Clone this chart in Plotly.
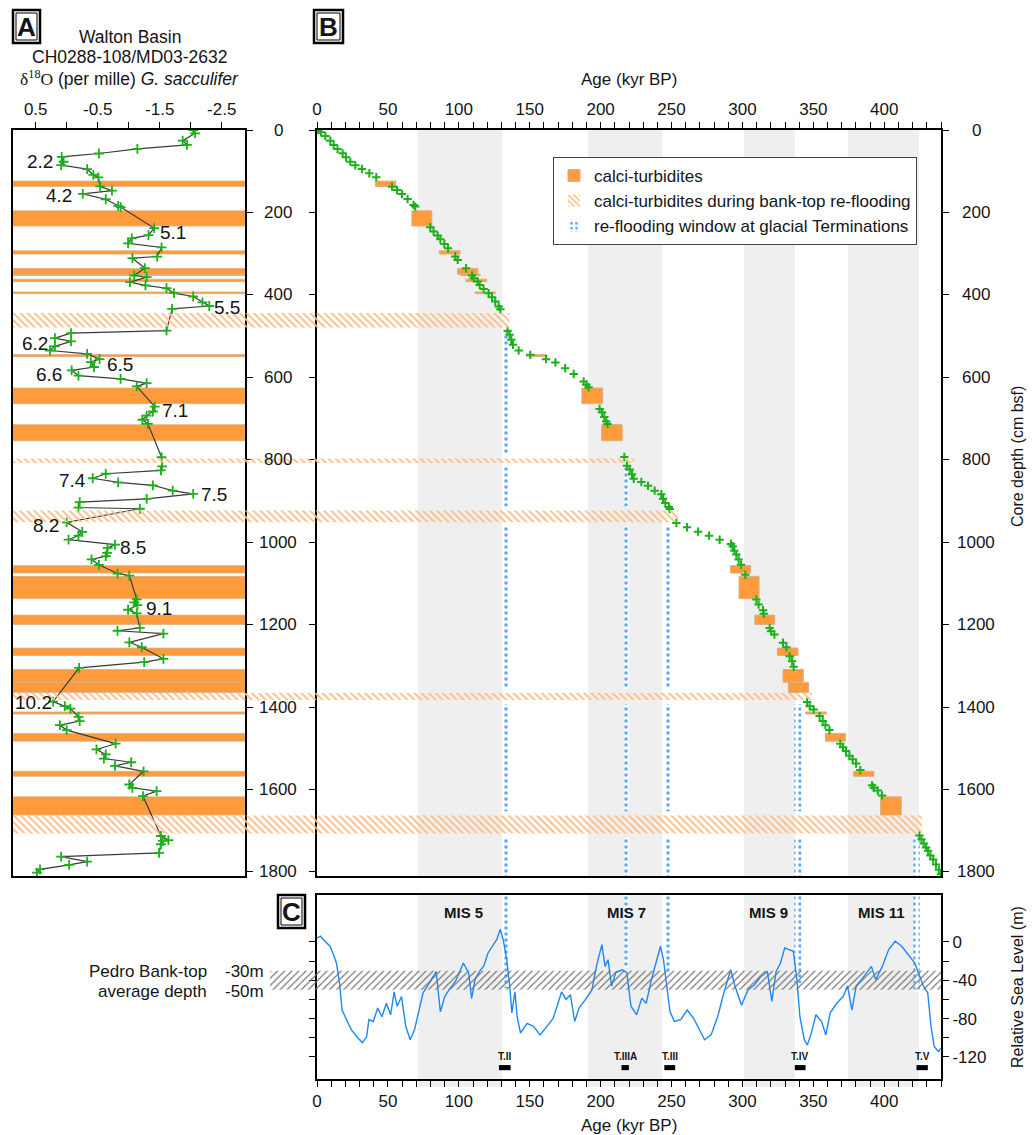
import plotly.graph_objects as go

W, H = 1032, 1135
FONT = "Liberation Sans"
TXT = "#151515"

# ---------------- DATA ----------------
# Panel A : d18O (G. sacculifer) versus core depth  (depth cm, d18O per mille)
a_record = [(0, -2.04), (8, -2.07), (26, -1.87), (36, -1.94), (46, -1.14), (57, -0.52), (65, 0.08),
            (77, 0.05), (85, 0.09), (95, -0.33), (109, -0.43), (115, -0.51), (137, -0.54), (147, -0.73),
            (155, -0.26), (168, -0.63), (184, -0.83), (187, -0.87), (238, -1.41), (255, -1.32), (263, -1.05),
            (275, -0.99), (285, -1.53), (307, -1.46), (311, -1.06), (335, -1.26), (353, -1.09), (357, -1.29),
            (369, -1.02), (377, -1.27), (384, -1.61), (396, -1.73), (404, -2.04), (418, -2.19), (427, -2.30),
            (434, -1.70), (487, -1.61), (493, -0.07), (505, 0.19), (513, -0.07), (525, 0.19), (535, 0.27),
            (543, -0.33), (556, -0.53), (563, -0.39), (575, -0.44), (583, -0.08), (596, -0.19), (604, -0.87),
            (614, -1.29), (622, -1.13), (671, -1.42), (683, -1.39), (693, -1.29), (703, -1.22), (713, -1.31),
            (794, -1.53), (816, -1.54), (826, -1.52), (834, -0.63), (845, -0.42), (855, -0.83), (862, -1.39),
            (875, -1.71), (883, -2.04), (895, -1.29), (903, -0.21), (916, -0.19), (919, -1.18), (952, 0.0),
            (975, -0.25), (984, -0.19), (994, -0.03), (1006, -0.78), (1014, -0.66), (1026, -0.65), (1034, -0.63),
            (1042, -0.40), (1055, -0.52), (1076, -0.82), (1081, -1.01), (1139, -1.13), (1146, -1.09),
            (1153, -1.14), (1164, -0.99), (1173, -1.13), (1208, -1.18), (1215, -0.82), (1222, -1.56),
            (1243, -1.01), (1255, -1.21), (1283, -1.56), (1291, -1.25), (1305, -0.20), (1387, 0.22),
            (1398, 0.03), (1404, -0.06), (1424, -0.19), (1434, -0.21), (1444, 0.11), (1456, 0.0), (1489, -0.79),
            (1503, -0.48), (1515, -0.63), (1525, -0.60), (1534, -1.04), (1543, -0.78), (1556, -1.24),
            (1588, -1.01), (1596, -1.06), (1604, -1.45), (1616, -1.23), (1713, -1.52), (1723, -1.64),
            (1725, -1.55), (1733, -1.52), (1754, -1.49), (1763, 0.09), (1775, -0.33), (1783, -0.04),
            (1794, 0.43), (1802, 0.48)]
a_depth = [p[0] for p in a_record]
a_d18o = [p[1] for p in a_record]

# MIS sub-stage labels in panel A
a_label_text = ["2.2", "4.2", "5.1", "5.5", "6.2", "6.5", "6.6", "7.1", "7.4", "7.5", "8.2", "8.5", "9.1", "10.2"]
a_label_d18o = [0.43, 0.12, -1.71, -2.58, 0.51, -0.86, 0.28, -1.75, -0.10, -2.38, 0.33, -1.07, -1.49, 0.54]
a_label_depth = [77, 160, 249, 430, 517, 568, 592, 680, 850, 885, 959, 1012, 1162, 1390]

# calci-turbidites: depth interval (cm) and age interval (kyr)
turb_top = [124, 196, 293, 336, 350, 362, 393, 545, 626, 715, 1057, 1083, 1177, 1257, 1309, 1340, 1412, 1464, 1556, 1618]
turb_bot = [137, 233, 301, 350, 353, 368, 397, 550, 664, 754, 1075, 1137, 1200, 1275, 1340, 1365, 1417, 1483, 1568, 1662]
turb_age0 = [41.3, 66.9, 86.3, 99.0, 101.0, 105.0, 111.5, 147.9, 186.8, 200.7, 291.5, 297.6, 308.7, 324.6, 328.6,
             332.4, 344.6, 358.5, 378.4, 397.4]
turb_age1 = [55.6, 81.0, 100.9, 113.4, 115.2, 119.7, 126.0, 162.0, 201.4, 215.2, 305.8, 311.7, 322.7, 339.2, 342.9,
             346.7, 359.2, 372.7, 392.7, 412.0]

# calci-turbidites during bank-top re-flooding
flood_top = [444, 797, 923, 1366, 1663]
flood_bot = [479, 808, 952, 1383, 1707]
flood_end_age = [135.6, 224.0, 254.6, 349.0, 426.5]

# age model tie points (age kyr, depth cm)
age_model = [(1.1, 0), (2.8, 5.7), (5.9, 14.5), (9.4, 25.9), (11.7, 36.4), (14.5, 46.1), (18.1, 56.6), (20.4, 66.3),
             (23.5, 76.8), (27.0, 85.6), (31.7, 94.5), (36.9, 105), (41.8, 114.7), (52.9, 137.4), (56.4, 145.5),
             (59.9, 155.2), (63.9, 167.3), (68.1, 181.8), (69.3, 185.9), (79.9, 236), (82.2, 246.5), (85.1, 256.2),
             (87.0, 265), (89.8, 276.4), (92.4, 286.8), (97.5, 307), (99.2, 315.2), (105.1, 335.3), (109.3, 353.1),
             (110.5, 359.5), (113.3, 367.6), (114.7, 375.8), (117.5, 385.5), (121.0, 396), (123.4, 405.8),
             (125.7, 416.2), (128.1, 428.3), (129.3, 434.7), (134.4, 487.3), (135.8, 497), (137.0, 509),
             (138.2, 521), (142.2, 535), (150.4, 545.5), (161.5, 556), (168.1, 564), (175.0, 578), (181.0, 592),
             (188.0, 610), (189.9, 618), (191.5, 624), (199.3, 677), (201.0, 685), (202.6, 696.5), (204.0, 707),
             (204.9, 713.5), (216.7, 793.5), (218.6, 814.5), (220.5, 824), (222.1, 835), (223.3, 846),
             (228.7, 854), (233.4, 863), (238.1, 875), (242.8, 883.5), (244.0, 894.5), (245.6, 905), (248.0, 915),
             (248.7, 919.5), (253.4, 953.5), (260.9, 964), (268.7, 974.5), (276.4, 984.2), (283.9, 994),
             (291.9, 1004.5), (293.1, 1010), (294.3, 1020.6), (295.7, 1030), (297.3, 1042), (299.0, 1055),
             (302.0, 1079), (309.8, 1139), (311.4, 1151.5), (314.5, 1165), (315.0, 1174), (319.2, 1208),
             (320.2, 1216), (322.5, 1224), (328.6, 1244), (331.0, 1255), (333.3, 1277), (335.0, 1289),
             (336.1, 1302.5), (345.6, 1388), (347.4, 1398), (350.2, 1406), (354.4, 1422), (356.6, 1434),
             (358.5, 1444), (361.3, 1456), (369.0, 1489), (370.9, 1497.5), (373.0, 1507), (375.4, 1518),
             (377.7, 1527), (380.1, 1537), (383.1, 1553), (391.4, 1590), (392.5, 1596), (395.4, 1602.4),
             (398.4, 1614.5), (424.8, 1711.5), (426.2, 1721), (427.8, 1731), (429.5, 1741), (430.9, 1749),
             (432.5, 1760), (434.5, 1770), (436.5, 1782), (438.5, 1795), (440.0, 1806)]
am_age = [p[0] for p in age_model]
am_depth = [p[1] for p in age_model]

# Marine isotope stages (interglacials)
mis_names = ["MIS 5", "MIS 7", "MIS 9", "MIS 11"]
mis_start = [71.0, 191.0, 301.0, 374.5]
mis_end = [130.5, 243.5, 337.0, 424.5]
mis_label_age = [103.3, 218.5, 318.6, 397.7]

# glacial terminations: re-flooding windows
term_names = ["T.II", "T.IIIA", "T.III", "T.IV", "T.V"]
win_age0 = [130.5, 216.5, 245.5, 336.5, 420.5]
win_age1 = [135.0, 219.5, 249.5, 341.5, 425.0]
c_win_bottom = [-48, -27, -32, -43, -52]
tbar_age0 = [128.3, 214.7, 244.9, 336.9, 422.7]
tbar_age1 = [136.5, 219.9, 252.6, 344.5, 430.7]

# relative sea level (age kyr, m)
sea_level = [(0, 4.2), (2.4, 6), (4.6, 2.4), (6.7, -1), (9.2, -4.5), (11.6, -13), (13.7, -22), (15.9, -43),
             (17.7, -71), (21.4, -83), (24.4, -92), (29.0, -100.5), (32.0, -105), (35.0, -99), (36.6, -81),
             (39.7, -83), (42.8, -69), (45.8, -78), (48.9, -64), (51.9, -76), (54.4, -52), (56.5, -67),
             (59.6, -57), (62.6, -88), (65.7, -102), (68.7, -92), (71.8, -71), (74.8, -53), (77.9, -46),
             (80.9, -39), (84.0, -31), (87.0, -73), (90.1, -57), (93.1, -50), (97.7, -41), (103.2, -22),
             (106.9, -32), (109.0, -59), (111.5, -39), (114.5, -31), (117.6, -25), (120.6, -11.5), (123.7, -4.5),
             (126.7, 2.4), (129.2, 13), (131.3, 2.4), (133.8, -18.5), (135.9, -46), (137.4, -74), (139.6, -52),
             (141.1, -78), (143.5, -95), (148.1, -85), (152.7, -88), (157.3, -97), (161.9, -88), (166.4, -80),
             (169.5, -66), (172.5, -52), (175.6, -60), (178.7, -55), (181.7, -83), (184.8, -69), (189.3, -60),
             (193.9, -50), (197.0, -25.5), (199.1, -11.5), (200.9, -2.8), (203.1, -25.5), (205.2, -18.5),
             (207.7, -46), (210.7, -32), (215.3, -29), (218.4, -32), (221.4, -67), (225.4, -76), (229.0, -58.6),
             (232.1, -64), (235.8, -39.4), (239.7, -18.5), (242.2, -4.5), (244.3, -18.5), (246.8, -46),
             (248.9, -72.6), (252.0, -83), (256.5, -81), (261.1, -71), (265.7, -80), (270.3, -93.5), (273.3, -102),
             (277.9, -97), (282.5, -78), (287.1, -52), (291.7, -29), (294.7, -46), (299.3, -66), (303.9, -50),
             (308.5, -44.7), (313.0, -36), (317.6, -31), (320.7, -62), (323.7, -31), (326.8, -22), (329.8, -6.3),
             (332.9, -8), (335.9, -9.8), (338.4, -39.4), (340.5, -78), (343.6, -102), (345.7, -107.5),
             (348.2, -97), (351.8, -76), (355.8, -83), (358.8, -97), (361.9, -74), (366.5, -64), (371.0, -57),
             (374.1, -46), (377.2, -71), (380.2, -46), (384.8, -37.7), (390.9, -25.5), (394.0, -39.4),
             (398.6, -25.5), (403.1, -8), (407.7, 0.7), (412.3, -4.5), (416.9, -13), (421.5, -22), (424.5, -34),
             (427.6, -46), (430.6, -53), (433.0, -88), (435.2, -109), (438.2, -114.5), (439.8, -111)]
sl_age = [p[0] for p in sea_level]
sl_val = [p[1] for p in sea_level]

bank_top_depth = [-30, -50]
depth_ticks = [0, 200, 400, 600, 800, 1000, 1200, 1400, 1600, 1800]
a_ticks = [0.5, -0.5, -1.5, -2.5]
a_ticktext = ["0.5", "-0.5", "-1.5", "-2.5"]
a_minor_ticks = [0.0, -1.0, -2.0]
sl_ticks = [0, -40, -80, -120]
sl_ticktext = ["0", "-40", "-80", "-120"]
sl_minor_ticks = [-20, -60, -100]

# ---------------- LAYOUT GEOMETRY (pixels) ----------------
A_X = (13, 245)
B_X = (317, 941)
MAIN_Y = (130, 876)
C_Y = (895, 1079)
A_RANGE = [0.866, -2.876]
DEPTH_RANGE = [1810, 0]
AGE_RANGE = [0, 440]
SL_RANGE = [-143, 49]


def xd(a, b):
    return [a / W, b / W]


def yd(a, b):
    return [1 - b / H, 1 - a / H]


kpx = (B_X[1] - B_X[0]) / (AGE_RANGE[1] - AGE_RANGE[0])
OV_RANGE = [AGE_RANGE[0] - B_X[0] / kpx, AGE_RANGE[0] + (W - B_X[0]) / kpx]
a_left_age = AGE_RANGE[0] + (A_X[0] - B_X[0]) / kpx
c_hatch_left_age = AGE_RANGE[0] + (270 - B_X[0]) / kpx
c_band_drop = -8 / (C_Y[1] - C_Y[0])   # MIS shading runs down to the tick ends in C

ORANGE = "#FF9B3A"
ORANGE_EDGE = "#D9B08A"
HATCH_OR = "#FDBE88"
GREEN = "#1DB01D"
BLUE = "#1E88F5"
WIN_BLUE = "#5AAAFF"
GREY_BAND = "#EFEFEF"

fig = go.Figure()

# --- calci-turbidite boxes in B (legend 1)
fig.add_trace(go.Bar(
    orientation="h", xaxis="x2", yaxis="y2",
    y=[(t + b) / 2 for t, b in zip(turb_top, turb_bot)],
    width=[b - t for t, b in zip(turb_top, turb_bot)],
    base=turb_age0, x=[a1 - a0 for a0, a1 in zip(turb_age0, turb_age1)],
    marker=dict(color=ORANGE, line=dict(color=ORANGE_EDGE, width=1)),
    name="calci-turbidites", hoverinfo="skip"))

# --- re-flooding hatched bands across A and B (legend 2)
fig.add_trace(go.Bar(
    orientation="h", xaxis="x4", yaxis="y4",
    y=[(t + b) / 2 for t, b in zip(flood_top, flood_bot)],
    width=[b - t for t, b in zip(flood_top, flood_bot)],
    base=[a_left_age] * len(flood_top),
    x=[e - a_left_age for e in flood_end_age],
    marker=dict(color="rgba(0,0,0,0)", line=dict(width=0),
                pattern=dict(shape="\\", fgcolor=HATCH_OR, bgcolor="rgba(0,0,0,0)", size=5, solidity=0.4)),
    name="calci-turbidites during bank-top re-flooding", hoverinfo="skip"))

# --- re-flooding windows in B (legend 3)
GAP = 10
wx, ww, wb, wl = [], [], [], []
for i in range(len(term_names)):
    start = flood_bot[i] + GAP
    for j in range(i + 1, len(flood_top)):
        end = flood_top[j] - GAP
        wx.append((win_age0[i] + win_age1[i]) / 2); ww.append(win_age1[i] - win_age0[i])
        wb.append(start); wl.append(end - start)
        start = flood_bot[j] + GAP
    end = DEPTH_RANGE[0]
    wx.append((win_age0[i] + win_age1[i]) / 2); ww.append(win_age1[i] - win_age0[i])
    wb.append(start); wl.append(end - start)

win_marker = dict(color="white", line=dict(width=0),
                  pattern=dict(shape=".", fgcolor=WIN_BLUE, bgcolor="white", size=6, solidity=0.28))
fig.add_trace(go.Bar(
    orientation="v", xaxis="x2", yaxis="y2", x=wx, width=ww, base=wb, y=wl,
    marker=win_marker, name="re-flooding window at glacial Terminations", hoverinfo="skip"))

# --- windows in C
fig.add_trace(go.Bar(
    orientation="v", xaxis="x3", yaxis="y3",
    x=[(a + b) / 2 for a, b in zip(win_age0, win_age1)],
    width=[b - a for a, b in zip(win_age0, win_age1)],
    base=c_win_bottom, y=[SL_RANGE[1] - v for v in c_win_bottom],
    marker=win_marker, showlegend=False, hoverinfo="skip"))

# --- panel A d18O record
fig.add_trace(go.Scatter(
    x=a_d18o, y=a_depth, xaxis="x", yaxis="y", mode="lines+markers",
    line=dict(color="#3a3a3a", width=1.2),
    marker=dict(symbol="cross-thin", size=7, color=GREEN, line=dict(color=GREEN, width=1.8)),
    showlegend=False, hoverinfo="skip"))

# --- age model
fig.add_trace(go.Scatter(
    x=am_age, y=am_depth, xaxis="x2", yaxis="y2", mode="markers",
    marker=dict(symbol="cross-thin", size=6, color=GREEN, line=dict(color=GREEN, width=2)),
    showlegend=False, hoverinfo="skip"))

# --- sea level
fig.add_trace(go.Scatter(
    x=sl_age, y=sl_val, xaxis="x3", yaxis="y3", mode="lines",
    line=dict(color=BLUE, width=1.4), showlegend=False, hoverinfo="skip"))

# --- bank-top depth hatch
fig.add_trace(go.Bar(
    orientation="h", xaxis="x5", yaxis="y5",
    y=[(bank_top_depth[0] + bank_top_depth[1]) / 2], width=[bank_top_depth[0] - bank_top_depth[1]],
    base=[c_hatch_left_age], x=[AGE_RANGE[1] - c_hatch_left_age],
    marker=dict(color="rgba(0,0,0,0)", line=dict(width=0),
                pattern=dict(shape="/", fgcolor="#707070", bgcolor="rgba(0,0,0,0)", size=5, solidity=0.22)),
    showlegend=False, hoverinfo="skip"))

# ---------------- SHAPES ----------------
shapes = []
for s, e in zip(mis_start, mis_end):
    shapes.append(dict(type="rect", xref="x2", yref="y2 domain", x0=s, x1=e, y0=0, y1=1,
                       fillcolor=GREY_BAND, line=dict(width=0), layer="below"))
    shapes.append(dict(type="rect", xref="x3", yref="y3 domain", x0=s, x1=e, y0=c_band_drop, y1=1,
                       fillcolor=GREY_BAND, line=dict(width=0), layer="below"))
for t, b in zip(turb_top, turb_bot):
    shapes.append(dict(type="rect", xref="x domain", yref="y", x0=0, x1=1, y0=t, y1=b,
                       fillcolor=ORANGE, line=dict(color=ORANGE_EDGE, width=0.8), layer="below"))
for a0, a1 in zip(tbar_age0, tbar_age1):
    shapes.append(dict(type="rect", xref="x3", yref="y3", x0=a0, x1=a1, y0=-128.5, y1=-133.8,
                       fillcolor="black", line=dict(width=0)))
# panel letter boxes
for (x0, y0, x1, y1) in [(13, 10, 40, 43), (314, 10, 343, 43), (278, 895, 305, 928)]:
    shapes.append(dict(type="rect", xref="paper", yref="paper", x0=x0 / W, x1=x1 / W,
                       y0=1 - y1 / H, y1=1 - y0 / H, line=dict(color="black", width=2.5), fillcolor="white"))
    shapes.append(dict(type="rect", xref="paper", yref="paper", x0=(x0 + 3) / W, x1=(x1 - 3) / W,
                       y0=1 - (y1 - 3) / H, y1=1 - (y0 + 3) / H, line=dict(color="black", width=1)))

# ---------------- ANNOTATIONS ----------------
ann = []


def pa(text, x, y, size=17, xanchor="center", yanchor="middle", bold=False, angle=0, family=FONT):
    if bold:
        text = "<b>" + text + "</b>"
    ann.append(dict(text=text, xref="paper", yref="paper", x=x / W, y=1 - y / H, showarrow=False,
                    xanchor=xanchor, yanchor=yanchor, textangle=angle,
                    font=dict(size=size, color=TXT, family=family)))


pa("A", 26.5, 27, size=26, bold=True)
pa("B", 328.5, 27, size=26, bold=True)
pa("C", 291.5, 912, size=26, bold=True)
pa("Walton Basin", 130, 37, size=17.5)
pa("CH0288-108/MD03-2632", 130, 57, size=17.5)
pa("<span style='font-family:Liberation Serif'>δ<sup>18</sup>O</span> (per mille) <i>G. sacculifer</i>",
   129, 78, size=17.5)
pa("Age (kyr BP)", 629, 80, size=17)
pa("Age (kyr BP)", 629, 1125, size=17)
pa("Core depth (cm bsf)", 1017, 457, size=16, angle=-90)
pa("Relative Sea Level (m)", 1017, 987, size=16, angle=-90)
pa("Pedro Bank-top", 209, 972, size=17, xanchor="right")
pa("average depth", 209, 991, size=17, xanchor="right")
pa("-30m", 223, 972, size=17, xanchor="left")
pa("-50m", 223, 991, size=17, xanchor="left")

for t, v, d in zip(a_label_text, a_label_d18o, a_label_depth):
    ann.append(dict(text=t, xref="x", yref="y", x=v, y=d, showarrow=False, xanchor="center",
                    font=dict(size=19, color=TXT, family=FONT)))
for v in depth_ticks:
    ann.append(dict(text=str(v), xref="paper", yref="y", x=278 / W, y=v, showarrow=False,
                    xanchor="center", yanchor="middle", font=dict(size=17, color=TXT, family=FONT)))
    ann.append(dict(text=str(v), xref="paper", yref="y2", x=976 / W, y=v, showarrow=False,
                    xanchor="center", yanchor="middle", font=dict(size=17, color=TXT, family=FONT)))
for n, a in zip(mis_names, mis_label_age):
    ann.append(dict(text="<b>" + n + "</b>", xref="x3", yref="y3", x=a, y=30.7, showarrow=False,
                    xanchor="center", font=dict(size=15, color=TXT, family=FONT)))
for n, a0, a1 in zip(term_names, tbar_age0, tbar_age1):
    ann.append(dict(text="<b>" + n + "</b>", xref="x3", yref="y3", x=(a0 + a1) / 2, y=-120, showarrow=False,
                    xanchor="center", font=dict(size=10, color=TXT, family=FONT)))

# ---------------- AXES ----------------
axline = dict(showline=True, linecolor="black", linewidth=2, showgrid=False, zeroline=False,
              ticks="outside", ticklen=6, tickwidth=1, tickcolor="black",
              tickfont=dict(size=17, color=TXT, family=FONT))
minor_style = dict(ticks="outside", ticklen=6, tickcolor="black", showgrid=False)

fig.update_layout(
    width=W, height=H, margin=dict(l=0, r=0, t=0, b=0),
    paper_bgcolor="white", plot_bgcolor="rgba(0,0,0,0)",
    template="none", barmode="overlay",
    font=dict(family=FONT, color=TXT, size=17),
    xaxis=dict(domain=xd(*A_X), range=A_RANGE, side="top", anchor="y", mirror=True,
               tickvals=a_ticks, ticktext=a_ticktext, minor=dict(tickvals=a_minor_ticks, **minor_style),
               **axline),
    yaxis=dict(domain=yd(*MAIN_Y), range=DEPTH_RANGE, side="right", anchor="x", mirror=True,
               tickvals=depth_ticks, showticklabels=False, **axline),
    xaxis2=dict(domain=xd(*B_X), range=AGE_RANGE, side="top", anchor="y2", mirror=True,
                tick0=0, dtick=50, minor=dict(dtick=10, **minor_style), **axline),
    yaxis2=dict(domain=yd(*MAIN_Y), range=DEPTH_RANGE, side="right", anchor="x2", mirror="ticks",
                tickvals=depth_ticks, showticklabels=False, **axline),
    xaxis3=dict(domain=xd(*B_X), range=AGE_RANGE, side="bottom", anchor="y3", mirror=True,
                tick0=0, dtick=50, minor=dict(dtick=10, **minor_style), **axline),
    yaxis3=dict(domain=yd(*C_Y), range=SL_RANGE, side="right", anchor="x3", mirror="ticks",
                tickvals=sl_ticks, ticktext=sl_ticktext,
                minor=dict(tickvals=sl_minor_ticks, **minor_style), **axline),
    xaxis4=dict(domain=[0, 1], range=OV_RANGE, anchor="y4", visible=False, fixedrange=True),
    yaxis4=dict(domain=yd(*MAIN_Y), range=DEPTH_RANGE, anchor="x4", visible=False, fixedrange=True),
    xaxis5=dict(domain=[0, 1], range=OV_RANGE, anchor="y5", visible=False, fixedrange=True),
    yaxis5=dict(domain=yd(*C_Y), range=SL_RANGE, anchor="x5", visible=False, fixedrange=True),
    legend=dict(x=553 / W, y=1 - 157 / H, xanchor="left", yanchor="top", bgcolor="white",
                bordercolor="#444", borderwidth=1, font=dict(size=17, color=TXT, family=FONT),
                traceorder="normal", tracegroupgap=0),
    showlegend=True,
    shapes=shapes, annotations=ann,
)

fig.write_html("out.html", config={"displayModeBar": False},
               post_script="document.body.style.margin='0';document.body.style.overflow='hidden';")
